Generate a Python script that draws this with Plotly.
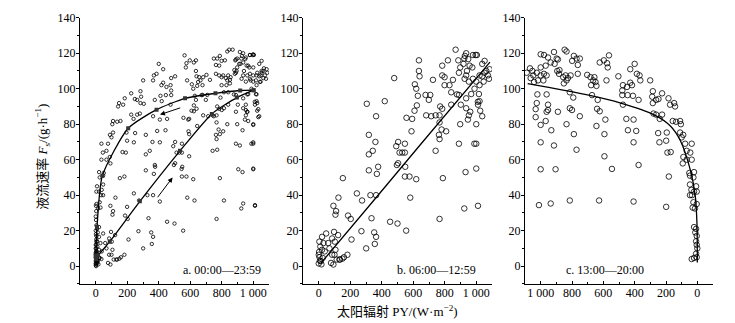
import plotly.graph_objects as go

# ---------------- data ----------------
# panel b: 06:00-12:59 (radiation W/m2, sap flow g/h)
b_x = [869,479,305,419,364,318,360,343,318,377,369,318,328,364,153,125,110,106,93,242,275,186,203,335,453,500,352,364,356,271,208,301,182,160,150,135,555,581,576,547,619,549,504,496,492,504,513,530,547,547,557,593,589,608,623,610,619,629,636,636,640,725,699,708,682,714,678,742,771,784,767,780,763,767,809,767,742,788,767,784,799,784,820,799,830,841,852,841,877,890,902,898,890,932,924,1011,1000,988,1000,1000,1021,1011,1025,1038,936,936,953,962,947,919,941,958,975,936,926,953,979,1000,1021,1038,1053,1064,1074,1081,1047,1021,989,968,1038,1053,1004,890,898,928,949,936,979,996,886,924,1085,1017,1010,
       4,21,47,0,5,13,0,17,25,38,21,68,85,78,93,100,106,102,85,114,131,97,123,10,30,60,8,2]
b_y = [122,106,91.5,93,84.5,74,70,65,63,56,52,54,40,40,49.6,38.6,31,29,34,41,37,28.5,26.6,27,25,24,19,16.5,12.5,19.7,15,10,6.4,5,4.2,3.7,20,38.6,50.5,50.5,49,56,58,57,67.6,70,64,64,64,69,83.6,83,76,87.6,90.6,102.5,100,96,116,110,107,105,93.7,96.5,85,84.5,96.5,85,90,88.7,85,77,74,71.6,76,81,65,49.6,26.6,107.5,106.5,113,116,102,102,98,105,91,96.8,96.5,91,80,69,53,32.5,34,55,69,69,80,93,91,87.6,84.5,94.6,89,85,87,82.6,114,110,113,112,107.5,105.6,104,105.6,104,107.5,107,109,110,107.5,105.6,104,102,100,97,114,115.7,119,109,112,118.5,116.7,120,119,119,116,117,111,97,92.6,
       13.8,16.5,18.4,6.4,5,2.8,1.5,1,4.6,8.3,9.2,10,6.4,1.8,0.9,6.4,9.2,13.8,15.6,3.7,3.7,19.3,17.5,11,13,13,3,8]

# panel c: 13:00-20:00
c_x = [1089,1068,1053,1047,1025,1064,1000,979,953,915,898,890,911,936,968,1000,1000,979,962,1017,1042,983,894,883,880,847,835,856,841,826,809,835,852,788,771,750,763,799,763,703,682,665,657,650,644,678,623,597,576,564,572,580,504,475,479,449,428,417,428,400,386,369,364,479,445,411,375,301,284,288,263,248,225,284,280,263,225,184,174,148,142,157,136,110,105,110,100,90,195,199,242,78,68,36,45,89,68,36,93,47,25,21,51,47,38,21,34,47,8,4,25,30,15,4,21,8,13,4,8,4,0,8,4,36,21,
       1021,1025,1032,1032,962,953,953,962,968,1000,1000,915,890,932,1000,905,1011,936,814,835,814,800,788,771,750,792,814,644,640,636,623,587,593,593,545,627,407,453,443,407,390,407,375,475,672,199,182,191,170,250,240]
c_y = [109,111.5,110,107.5,109,106,119.4,119,117.6,120.7,117,116.5,114,114.8,113,112,107.5,108.4,107.5,104.7,103.8,104.7,110,108.4,110.5,122,121,106.5,107.5,106,107.5,104.7,103,118.5,117,117,113.4,115.7,108.4,107.8,106.5,104.7,106.5,103.8,101.6,102,114.8,116,114.4,118.8,112,104.7,107,102,99,101,103.4,102,111,114,108.4,107.5,104.7,96.4,96.4,96,93.7,104.7,98.6,95.5,93.7,94.2,97.4,91.9,86,85.4,85.4,94.6,91,91.9,90,81.8,81.4,81.8,80,75.3,72.6,74,75.3,70.7,69.8,69,65,69,64,61.5,60,60,57.9,51,50,53,52.5,46,43,42,40,40,45,42,36,33,32.5,35,22,21,19,17,14,12,10,7,5,4,4.6,
       96.8,91.9,88.5,84,96.8,91,88,87,81.8,79.6,69.8,68,87,76.6,54.6,54.6,34.4,35.3,37,80,89,88,74.4,65.6,84.5,95,98,79,88.7,93.7,87.3,82.6,74.4,61.9,54.8,37,36.4,83,76.6,82.6,76.2,69.8,57,91,96.4,33.4,50.5,64,64.3,75,83]

# night hours 21:00-05:59 (only in panel a)
n_x = [0,2,0,4,1,3,0,5,2,0,3,1,0,4,2,0,3,1,6,8,10,0,2,5,7]
n_y = [0.5,1.5,3,2.5,4.5,6,7.5,8.5,10,12,15,18,20,23,26,28,31,34,3.5,5,2,5,0,1,7]

a_x = b_x + c_x + n_x
a_y = b_y + c_y + n_y

# hourly mean courses in panel a
am_x = [2,15,89,280,535,737,896,1002]
am_y = [4,6,13.8,36.5,65,85.8,95,99.2]
pm_x = [1002,917,760,567,386,206,42,8,0]
pm_y = [99.2,99,97.4,94.6,88.2,77.7,51,22,6]

# fitted curves
b_fit_x = [15,330,650,1087]
b_fit_y = [1.8,35,69,115]
c_fit_x = [1083,701,489,278,172,108,44,13,2,0]
c_fit_y = [102.9,96.5,91.9,85.4,79,70.7,54,39.5,23,2]

# arrows (tail -> head)
arrow_up = [386, 38, 488, 50]
arrow_dn = [546, 89.5, 408, 85.4]

x_tickvals = [0, 200, 400, 600, 800, 1000]
x_ticktext = ["0", "200", "400", "600", "800", "1 000"]
y_tickvals = [0, 20, 40, 60, 80, 100, 120, 140]

panel_labels = ["a. 00:00—23:59", "b. 06:00—12:59", "c. 13:00—20:00"]

# ---------------- figure ----------------
W, H = 735, 323
FONT = "Liberation Serif, Times New Roman, Noto Sans CJK SC"
fig = go.Figure()

def circ(x, y, xa, ya, size):
    return go.Scatter(x=x, y=y, xaxis=xa, yaxis=ya, mode="markers",
                      marker=dict(symbol="circle-open", size=size, color="black",
                                  line=dict(width=0.8, color="black")),
                      showlegend=False, hoverinfo="skip")

fig.add_trace(circ(a_x, a_y, "x", "y", 3.4))
fig.add_trace(go.Scatter(x=am_x, y=am_y, xaxis="x", yaxis="y", mode="lines+markers",
                         line=dict(color="black", width=1.3, shape="spline", smoothing=0.6),
                         marker=dict(symbol="square", size=4, color="#333"), showlegend=False))
fig.add_trace(go.Scatter(x=pm_x, y=pm_y, xaxis="x", yaxis="y", mode="lines+markers",
                         line=dict(color="black", width=1.3, shape="spline", smoothing=0.6),
                         marker=dict(symbol="square", size=4, color="#333"), showlegend=False))

fig.add_trace(circ(b_x, b_y, "x2", "y2", 5.5))
fig.add_trace(go.Scatter(x=b_fit_x, y=b_fit_y, xaxis="x2", yaxis="y2", mode="lines",
                         line=dict(color="black", width=1.3, shape="spline"), showlegend=False))

fig.add_trace(circ(c_x, c_y, "x3", "y3", 5.5))
fig.add_trace(go.Scatter(x=c_fit_x, y=c_fit_y, xaxis="x3", yaxis="y3", mode="lines",
                         line=dict(color="black", width=1.3, shape="spline", smoothing=0.8), showlegend=False))

def px(p):
    return p / W

ytop, ybot = 11, 283
ydom = [1 - ybot / H, 1 - ytop / H]
xdoms = [[px(80), px(269)], [px(303), px(492)], [px(525), px(713)]]

axis_common = dict(showline=True, linecolor="black", linewidth=1,
                   tickwidth=1, tickcolor="black", showgrid=False, zeroline=False,
                   tickfont=dict(family=FONT, size=12, color="black"), mirror=False)

lay = dict(width=W, height=H, margin=dict(l=0, r=0, t=0, b=0),
           paper_bgcolor="white", plot_bgcolor="white", showlegend=False,
           font=dict(family=FONT, color="black"))
for i, dom in enumerate(xdoms):
    s = "" if i == 0 else str(i + 1)
    rng = [1100, -100] if i == 2 else [-100, 1100]
    lay["xaxis" + s] = dict(axis_common, domain=dom, range=rng, tickvals=x_tickvals,
                            ticktext=x_ticktext, anchor="y" + s, ticks="inside", ticklen=3,
                            ticklabelstandoff=-2,
                            minor=dict(ticks="inside", ticklen=2, tickcolor="black", dtick=100, tick0=0))
    lay["yaxis" + s] = dict(axis_common, domain=ydom, range=[-10, 140], tickvals=y_tickvals,
                            anchor="x" + s, ticks="outside", ticklen=3, ticklabelstandoff=-2,
                            minor=dict(ticks="outside", ticklen=2, tickcolor="black", dtick=10, tick0=0))
fig.update_layout(**lay)

ann = []
label_pos = [("x", "y", 1065, "right"), ("x2", "y2", 1010, "right"), ("x3", "y3", 591, "center")]
for (xr, yr, xv, anc), t in zip(label_pos, panel_labels):
    ann.append(dict(xref=xr, yref=yr, x=xv, y=-2, text=t, showarrow=False, xanchor=anc,
                    yanchor="middle", font=dict(family=FONT, size=12, color="black")))
for arr in (arrow_up, arrow_dn):
    ann.append(dict(xref="x", yref="y", axref="x", ayref="y", x=arr[2], y=arr[3],
                    ax=arr[0], ay=arr[1], text="", showarrow=True, arrowhead=2,
                    arrowsize=1, arrowwidth=1, arrowcolor="black"))
ann.append(dict(xref="paper", yref="paper", x=42 / W, y=1 - 153 / H,
                text="液流速率 <i>F</i><sub>s</sub>/(g·h<sup>−1</sup>)", textangle=-90,
                showarrow=False, xanchor="center", yanchor="middle",
                font=dict(family=FONT, size=13, color="black")))
ann.append(dict(xref="paper", yref="paper", x=397 / W, y=1 - 311 / H,
                text="太阳辐射 PY/(W·m<sup>−2</sup>)", showarrow=False,
                xanchor="center", yanchor="middle",
                font=dict(family=FONT, size=13, color="black")))
fig.update_layout(annotations=ann)

fig.write_html("out.html", config={"displayModeBar": False},
               post_script="document.body.style.margin='0';document.body.style.overflow='hidden';")
